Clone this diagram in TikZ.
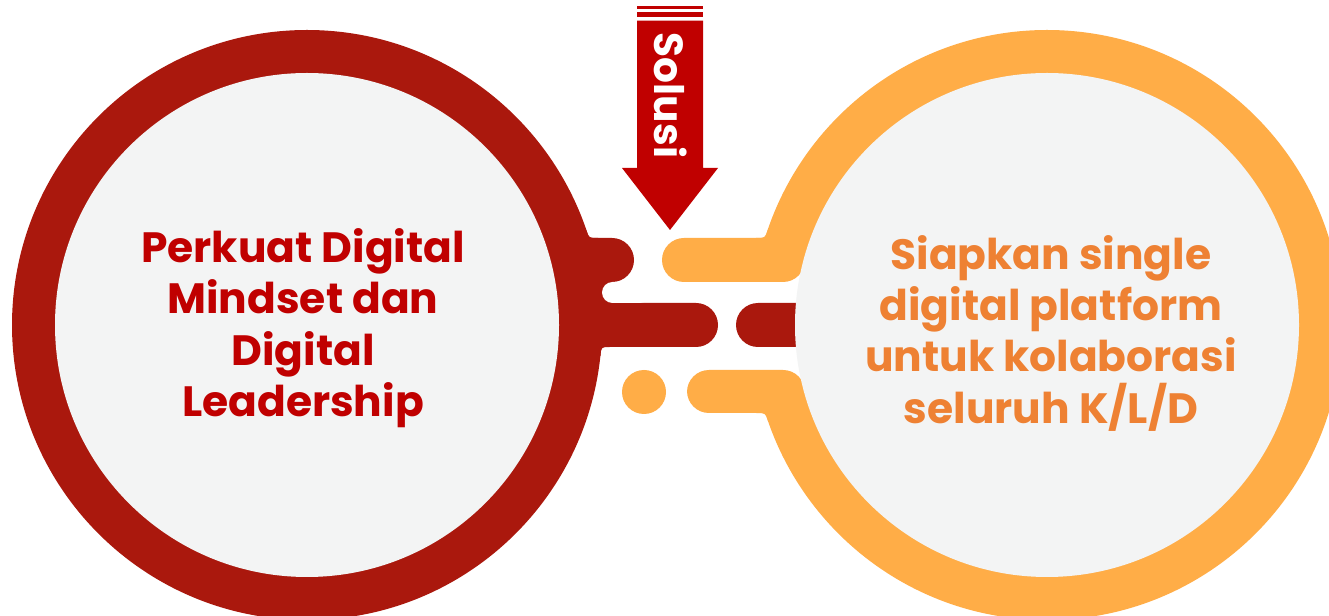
\documentclass[tikz,border=0pt]{standalone}
\usepackage{fontspec}
\setmainfont{Poppins}
\definecolor{ringred}{HTML}{AA180D}
\definecolor{arrowred}{HTML}{C00000}
\definecolor{ringorange}{HTML}{FFAD47}
\definecolor{textorange}{HTML}{EE8133}
\definecolor{innergray}{HTML}{F3F4F4}
\begin{document}
\begin{tikzpicture}[x=0.75pt,y=-0.75pt,
  pill/.style={rounded corners=16.5pt},
  bigtext/.style={inner sep=0pt, align=center, font=\bfseries\fontsize{31.8}{38.5}\selectfont}]
\useasboundingbox (0,0) rectangle (1329,616);
\clip (0,0) rectangle (1329,616);
\fill[white] (0,0) rectangle (1329,616);
% outer rings
\fill[ringred] (307,325) circle[radius=295];
\fill[ringorange] (1047,325) circle[radius=295];
\fill[white] (740,260) rectangle (830,392);
% left connectors
\fill[ringred] (540,270) rectangle (615,315);
\fill[ringred, pill] (540,238) rectangle (634,282);
\fill[ringred, pill] (540,303) rectangle (718,347);
\fill[white, rounded corners=7.875pt] (602,282) rectangle (650,303);
\fill[ringred] (586.3,230) .. controls (589,238) .. (598,238) -- (598,245) -- (580,245) -- cycle;
\fill[ringred] (600.5,356) .. controls (601.2,347) .. (610,347) -- (610,340) -- (595,340) -- (595,356) -- cycle;
% right connectors
\fill[ringorange, pill] (662,238) rectangle (805,282);
\fill[ringorange, pill] (687,370) rectangle (805,413);
\fill[ringred, pill] (736,303) rectangle (830,347);
\fill[ringorange] (644,392) circle[radius=22];
\fill[ringorange] (767.7,230) .. controls (765,238) .. (756,238) -- (756,245) -- (775,245) -- (775,230) -- cycle;
\fill[ringorange] (768,421) .. controls (765.4,413) .. (756,413) -- (756,405) -- (776,405) -- (776,421) -- cycle;
% inner discs
\fill[innergray] (307,325) circle[radius=252];
\fill[innergray] (1047,325) circle[radius=252];
% texts
\node[bigtext, text=arrowred] (lefttext) at (303,328) {Perkuat Digital\\Mindset dan\\Digital\\Leadership};
\node[bigtext, text=textorange] (righttext) at (1051,333) {Siapkan single\\digital platform\\untuk kolaborasi\\seluruh K/L/D};
% arrow
\fill[arrowred] (637,5.7) rectangle (703,8.7);
\fill[arrowred] (637,12) rectangle (703,17.3);
\fill[arrowred] (637,20.7) -- (703,20.7) -- (703,168) -- (718,168) -- (670,230) -- (622,168) -- (637,168) -- cycle;
\node[inner sep=0pt, rotate=-90, text=white, font=\bfseries\fontsize{30.5}{36}\selectfont] (solusi) at (670.5,95.5) {Solusi};
\end{tikzpicture}
\end{document}
